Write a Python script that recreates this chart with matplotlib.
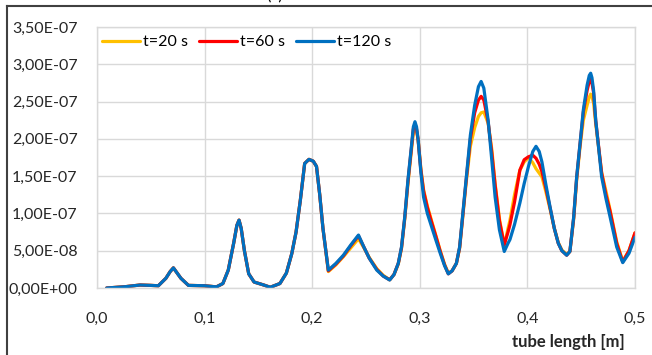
import numpy as np
import matplotlib.pyplot as plt
from matplotlib.lines import Line2D
from matplotlib.ticker import FuncFormatter, MultipleLocator

plt.rcParams['font.family'] = ['Lato', 'DejaVu Sans']

# position along the tube [m]
x = [0.009, 0.026, 0.040, 0.050, 0.057, 0.064, 0.068, 0.071, 0.074, 0.078,
     0.085, 0.100, 0.111, 0.117, 0.122, 0.127, 0.130, 0.132, 0.134, 0.137,
     0.141, 0.146, 0.155, 0.161, 0.170, 0.176, 0.181, 0.185, 0.189, 0.193,
     0.197, 0.201, 0.204, 0.207, 0.210, 0.215, 0.222, 0.229, 0.236, 0.243,
     0.248, 0.253, 0.260, 0.266, 0.272, 0.276, 0.280, 0.283, 0.286, 0.289,
     0.2925, 0.294, 0.2955, 0.297, 0.2985, 0.301, 0.3035, 0.307, 0.311, 0.315,
     0.319, 0.323, 0.3265, 0.330, 0.334, 0.337, 0.340, 0.343, 0.347, 0.351,
     0.3545, 0.357, 0.3595, 0.3635, 0.367, 0.370, 0.374, 0.3785, 0.382, 0.3838,
     0.388, 0.393, 0.397, 0.401, 0.405, 0.408, 0.411, 0.4135, 0.417, 0.421,
     0.425, 0.4287, 0.432, 0.4365, 0.4395, 0.443, 0.4458, 0.449, 0.452, 0.4555,
     0.4575, 0.4588, 0.460, 0.4615, 0.4635, 0.469, 0.473, 0.4768, 0.483, 0.4886,
     0.4944, 0.500]

# values in 1e-8 units
t20 = [0.0, 0.17, 0.4, 0.35, 0.3, 1.3, 2.2, 2.7, 2.1, 1.3,
       0.35, 0.3, 0.15, 0.6, 2.4, 6.0, 8.4, 9.1, 8.0, 5.0,
       1.9, 0.8, 0.4, 0.1, 0.6, 2.0, 4.6, 7.5, 11.8, 16.7,
       17.25, 17.0, 16.3, 12.5, 8.0, 2.2, 3.1, 4.2, 5.4, 6.6,
       5.4, 4.1, 2.6, 1.7, 1.1, 1.8, 3.2, 5.3, 9.2, 14.0,
       18.8, 20.8, 21.5, 21.0, 19.8, 16.0, 13.2, 11.0, 9.0, 7.0,
       5.0, 3.2, 2.0, 2.3, 3.3, 5.3, 9.6, 14.0, 19.0, 21.5,
       23.0, 23.5, 23.6, 22.1, 18.5, 14.0, 9.3, 5.7, 8.0, 9.1,
       12.5, 15.8, 16.9, 17.5, 16.8, 16.0, 15.4, 14.9, 13.0, 10.6,
       8.0, 6.1, 5.1, 4.5, 4.9, 9.2, 14.5, 19.0, 22.5, 24.5,
       25.6, 26.0, 25.7, 24.8, 22.0, 15.5, 13.0, 10.5, 6.2, 3.6,
       5.0, 7.4]

t60 = [0.0, 0.17, 0.4, 0.35, 0.3, 1.3, 2.2, 2.7, 2.1, 1.3,
       0.35, 0.3, 0.15, 0.6, 2.4, 6.0, 8.4, 9.1, 8.0, 5.0,
       1.9, 0.8, 0.4, 0.1, 0.6, 2.0, 4.6, 7.5, 11.8, 16.7,
       17.25, 17.0, 16.3, 12.5, 8.0, 2.3, 3.2, 4.3, 5.7, 7.0,
       5.5, 4.0, 2.5, 1.6, 1.1, 1.8, 3.3, 5.4, 9.4, 14.3,
       19.2, 21.3, 22.0, 21.3, 19.8, 15.8, 13.0, 10.8, 8.8, 6.9,
       4.9, 3.1, 1.9, 2.3, 3.3, 5.4, 9.8, 14.3, 20.0, 23.5,
       25.2, 25.7, 25.2, 22.3, 18.0, 13.8, 9.0, 5.8, 7.5, 8.5,
       11.5, 15.8, 17.2, 17.6, 17.8, 17.4, 16.6, 15.6, 13.5, 10.8,
       8.0, 6.0, 5.0, 4.4, 4.9, 9.4, 14.8, 19.4, 23.6, 26.5,
       27.7, 28.0, 27.5, 26.2, 22.4, 15.4, 12.5, 10.3, 6.0, 3.5,
       5.0, 7.4]

t120 = [0.0, 0.17, 0.4, 0.35, 0.3, 1.3, 2.2, 2.7, 2.1, 1.3,
        0.35, 0.3, 0.15, 0.6, 2.4, 6.0, 8.4, 9.1, 8.0, 5.0,
        1.9, 0.8, 0.4, 0.1, 0.6, 2.0, 4.6, 7.5, 11.8, 16.7,
        17.25, 17.0, 16.3, 12.5, 8.0, 2.4, 3.3, 4.4, 5.8, 7.1,
        5.5, 4.0, 2.4, 1.6, 1.07, 1.8, 3.3, 5.5, 9.5, 14.5,
        19.4, 21.6, 22.3, 21.6, 19.8, 15.5, 12.2, 10.0, 8.2, 6.4,
        4.65, 3.0, 1.9, 2.3, 3.3, 5.5, 10.0, 14.5, 20.5, 24.5,
        27.0, 27.7, 26.8, 22.5, 17.0, 12.2, 7.8, 4.9, 6.0, 6.5,
        8.5, 11.4, 14.0, 16.3, 18.3, 19.0, 18.3, 16.9, 14.0, 10.9,
        8.0, 6.0, 5.0, 4.4, 4.9, 9.5, 14.9, 19.5, 23.9, 27.2,
        28.5, 28.8, 28.2, 26.5, 22.5, 14.9, 12.0, 9.56, 5.5, 3.4,
        4.65, 6.8]

labels = ['t=20 s', 't=60 s', 't=120 s']
colors = ['#FFC000', '#FF0000', '#0070C0']

fig = plt.figure(figsize=(6.52, 3.55), dpi=100)
ax = fig.add_axes([97/652, 67/355, 538/652, 261/355])

for ys, lab, c in zip([t20, t60, t120], labels, colors):
    ax.plot(x, np.array(ys) * 1e-8, color=c, lw=2.3, label=lab,
            solid_joinstyle='round', solid_capstyle='round')

ax.set_xlim(0, 0.5)
ax.set_ylim(0, 3.5e-7)
ax.xaxis.set_major_locator(MultipleLocator(0.1))
ax.yaxis.set_major_locator(MultipleLocator(5e-8))


def fmt_x(v, pos):
    return f'{v:.1f}'.replace('.', ',')


def fmt_y(v, pos):
    return f'{v:.2E}'.replace('.', ',')


ax.xaxis.set_major_formatter(FuncFormatter(fmt_x))
ax.yaxis.set_major_formatter(FuncFormatter(fmt_y))
ax.grid(True, color='#D9D9D9', lw=1.0)
ax.set_axisbelow(True)
for s in ax.spines.values():
    s.set_color('#D9D9D9')
    s.set_linewidth(1.0)
ax.tick_params(length=0, labelsize=11.5, colors='#262626')
ax.tick_params(axis='x', pad=17)
ax.tick_params(axis='y', pad=14)

fig.text(568/652, 1 - 342/355, 'tube length [m]', ha='center', va='center',
         fontsize=12, fontweight='bold', color='#262626')

ax.legend(loc='upper left', bbox_to_anchor=(102/652, 1 - 35/355),
          bbox_transform=fig.transFigure, ncol=3, frameon=False,
          fontsize=11.5, handlelength=2.4, handletextpad=0.15,
          columnspacing=0.7, borderaxespad=0, borderpad=0)

# outer frame and panel label
fig.add_artist(Line2D([7/652, 7/652], [0, 1 - 6/355], color='#404040', lw=1.5))
fig.add_artist(Line2D([7/652, 1], [1 - 6/355, 1 - 6/355], color='#404040', lw=1.5))
fig.text(275/652, 1.0, '(c)', ha='center', va='baseline', fontsize=12)

fig.savefig('out.png', dpi=100)
